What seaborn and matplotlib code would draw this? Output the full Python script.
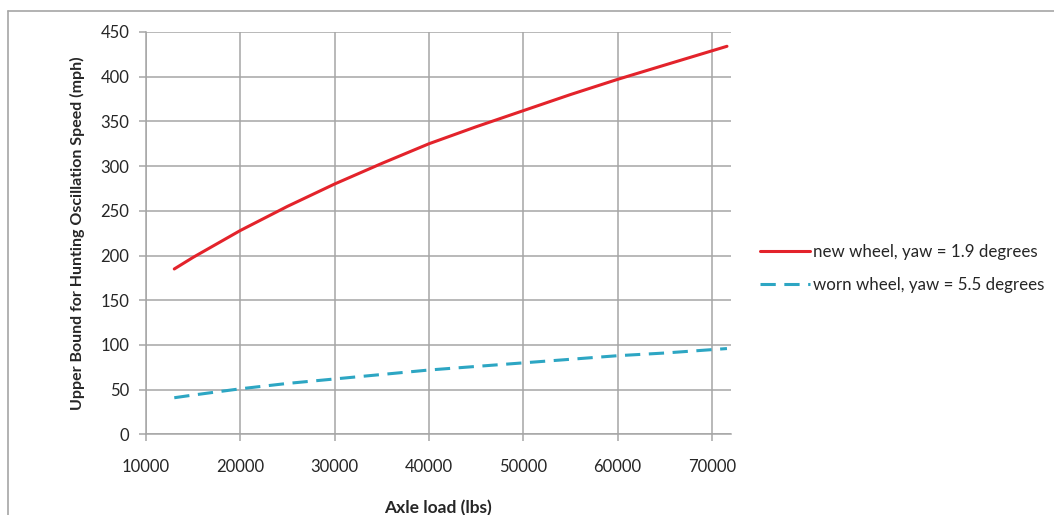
import pandas as pd
import matplotlib
matplotlib.use("Agg")
from matplotlib import pyplot as plt
from matplotlib.lines import Line2D
import seaborn as sns

# values
axle_load = [13000, 15000, 20000, 25000, 30000, 35000, 40000, 45000, 50000, 55000, 60000, 65000, 71600]
new_wheel = [185, 198, 228, 255, 280, 303, 325, 344, 362, 380, 397, 413, 434]
worn_wheel = [41, 44, 51, 57, 62, 67, 72, 76, 80, 84, 88, 91, 96]
series_names = ["new wheel, yaw = 1.9 degrees", "worn wheel, yaw = 5.5 degrees"]
x_ticks = [10000, 20000, 30000, 40000, 50000, 60000, 70000]
y_ticks = [0, 50, 100, 150, 200, 250, 300, 350, 400, 450]

sns.set_style("white")
plt.rcParams["font.family"] = ["Lato", "DejaVu Sans"]

red = "#E3232B"
blue = "#2DA6C3"
grid_grey = "#A6A6A6"

df = pd.DataFrame({"load": axle_load, "new": new_wheel, "worn": worn_wheel})

fig = plt.figure(figsize=(10.54, 5.15), dpi=100)
ax = fig.add_axes([0.1385, 0.1565, 0.5548, 0.7814])

sns.lineplot(data=df, x="load", y="new", ax=ax, color=red, linewidth=2.2)
sns.lineplot(data=df, x="load", y="worn", ax=ax, color=blue, linewidth=2.2, dashes=False)
ax.lines[1].set_dashes((5, 2.8))

ax.set_xlim(10000, 72000)
ax.set_ylim(0, 450)
ax.set_xticks(x_ticks)
ax.set_yticks(y_ticks)
ax.set_xticklabels([str(t) for t in x_ticks], fontsize=12)
ax.set_yticklabels([str(t) for t in y_ticks], fontsize=12)
ax.grid(True, color=grid_grey, linewidth=1.1)
ax.set_axisbelow(True)
for side in ["top", "right"]:
    ax.spines[side].set_visible(False)
for side in ["left", "bottom"]:
    ax.spines[side].set_color(grid_grey)
    ax.spines[side].set_linewidth(1.1)
ax.tick_params(axis="both", direction="out", length=5, width=1.1, color=grid_grey, pad=7,
               bottom=True, left=True)
ax.tick_params(axis="x", pad=13)

ax.set_xlabel("Axle load (lbs)", fontsize=12.5, fontweight="bold", labelpad=18)
ax.set_ylabel("Upper Bound for Hunting Oscillation Speed (mph)", fontsize=11.5, fontweight="bold", labelpad=11)

handles = [Line2D([], [], color=red, linewidth=2.2),
           Line2D([], [], color=blue, linewidth=2.2, dashes=(5, 2.8))]
fig.legend(handles, series_names, loc="center left", bbox_to_anchor=(0.707, 0.478),
           frameon=False, fontsize=12.2, handlelength=2.9, handletextpad=0.2, labelspacing=1.0)

# outer chart frame
fig.add_artist(Line2D([8 / 1054, 8 / 1054], [0, 1 - 11 / 515], transform=fig.transFigure,
                      color=grid_grey, linewidth=1.2))
fig.add_artist(Line2D([8 / 1054, 1], [1 - 11 / 515, 1 - 11 / 515], transform=fig.transFigure,
                      color=grid_grey, linewidth=1.2))

fig.savefig("out.png", dpi=100)
